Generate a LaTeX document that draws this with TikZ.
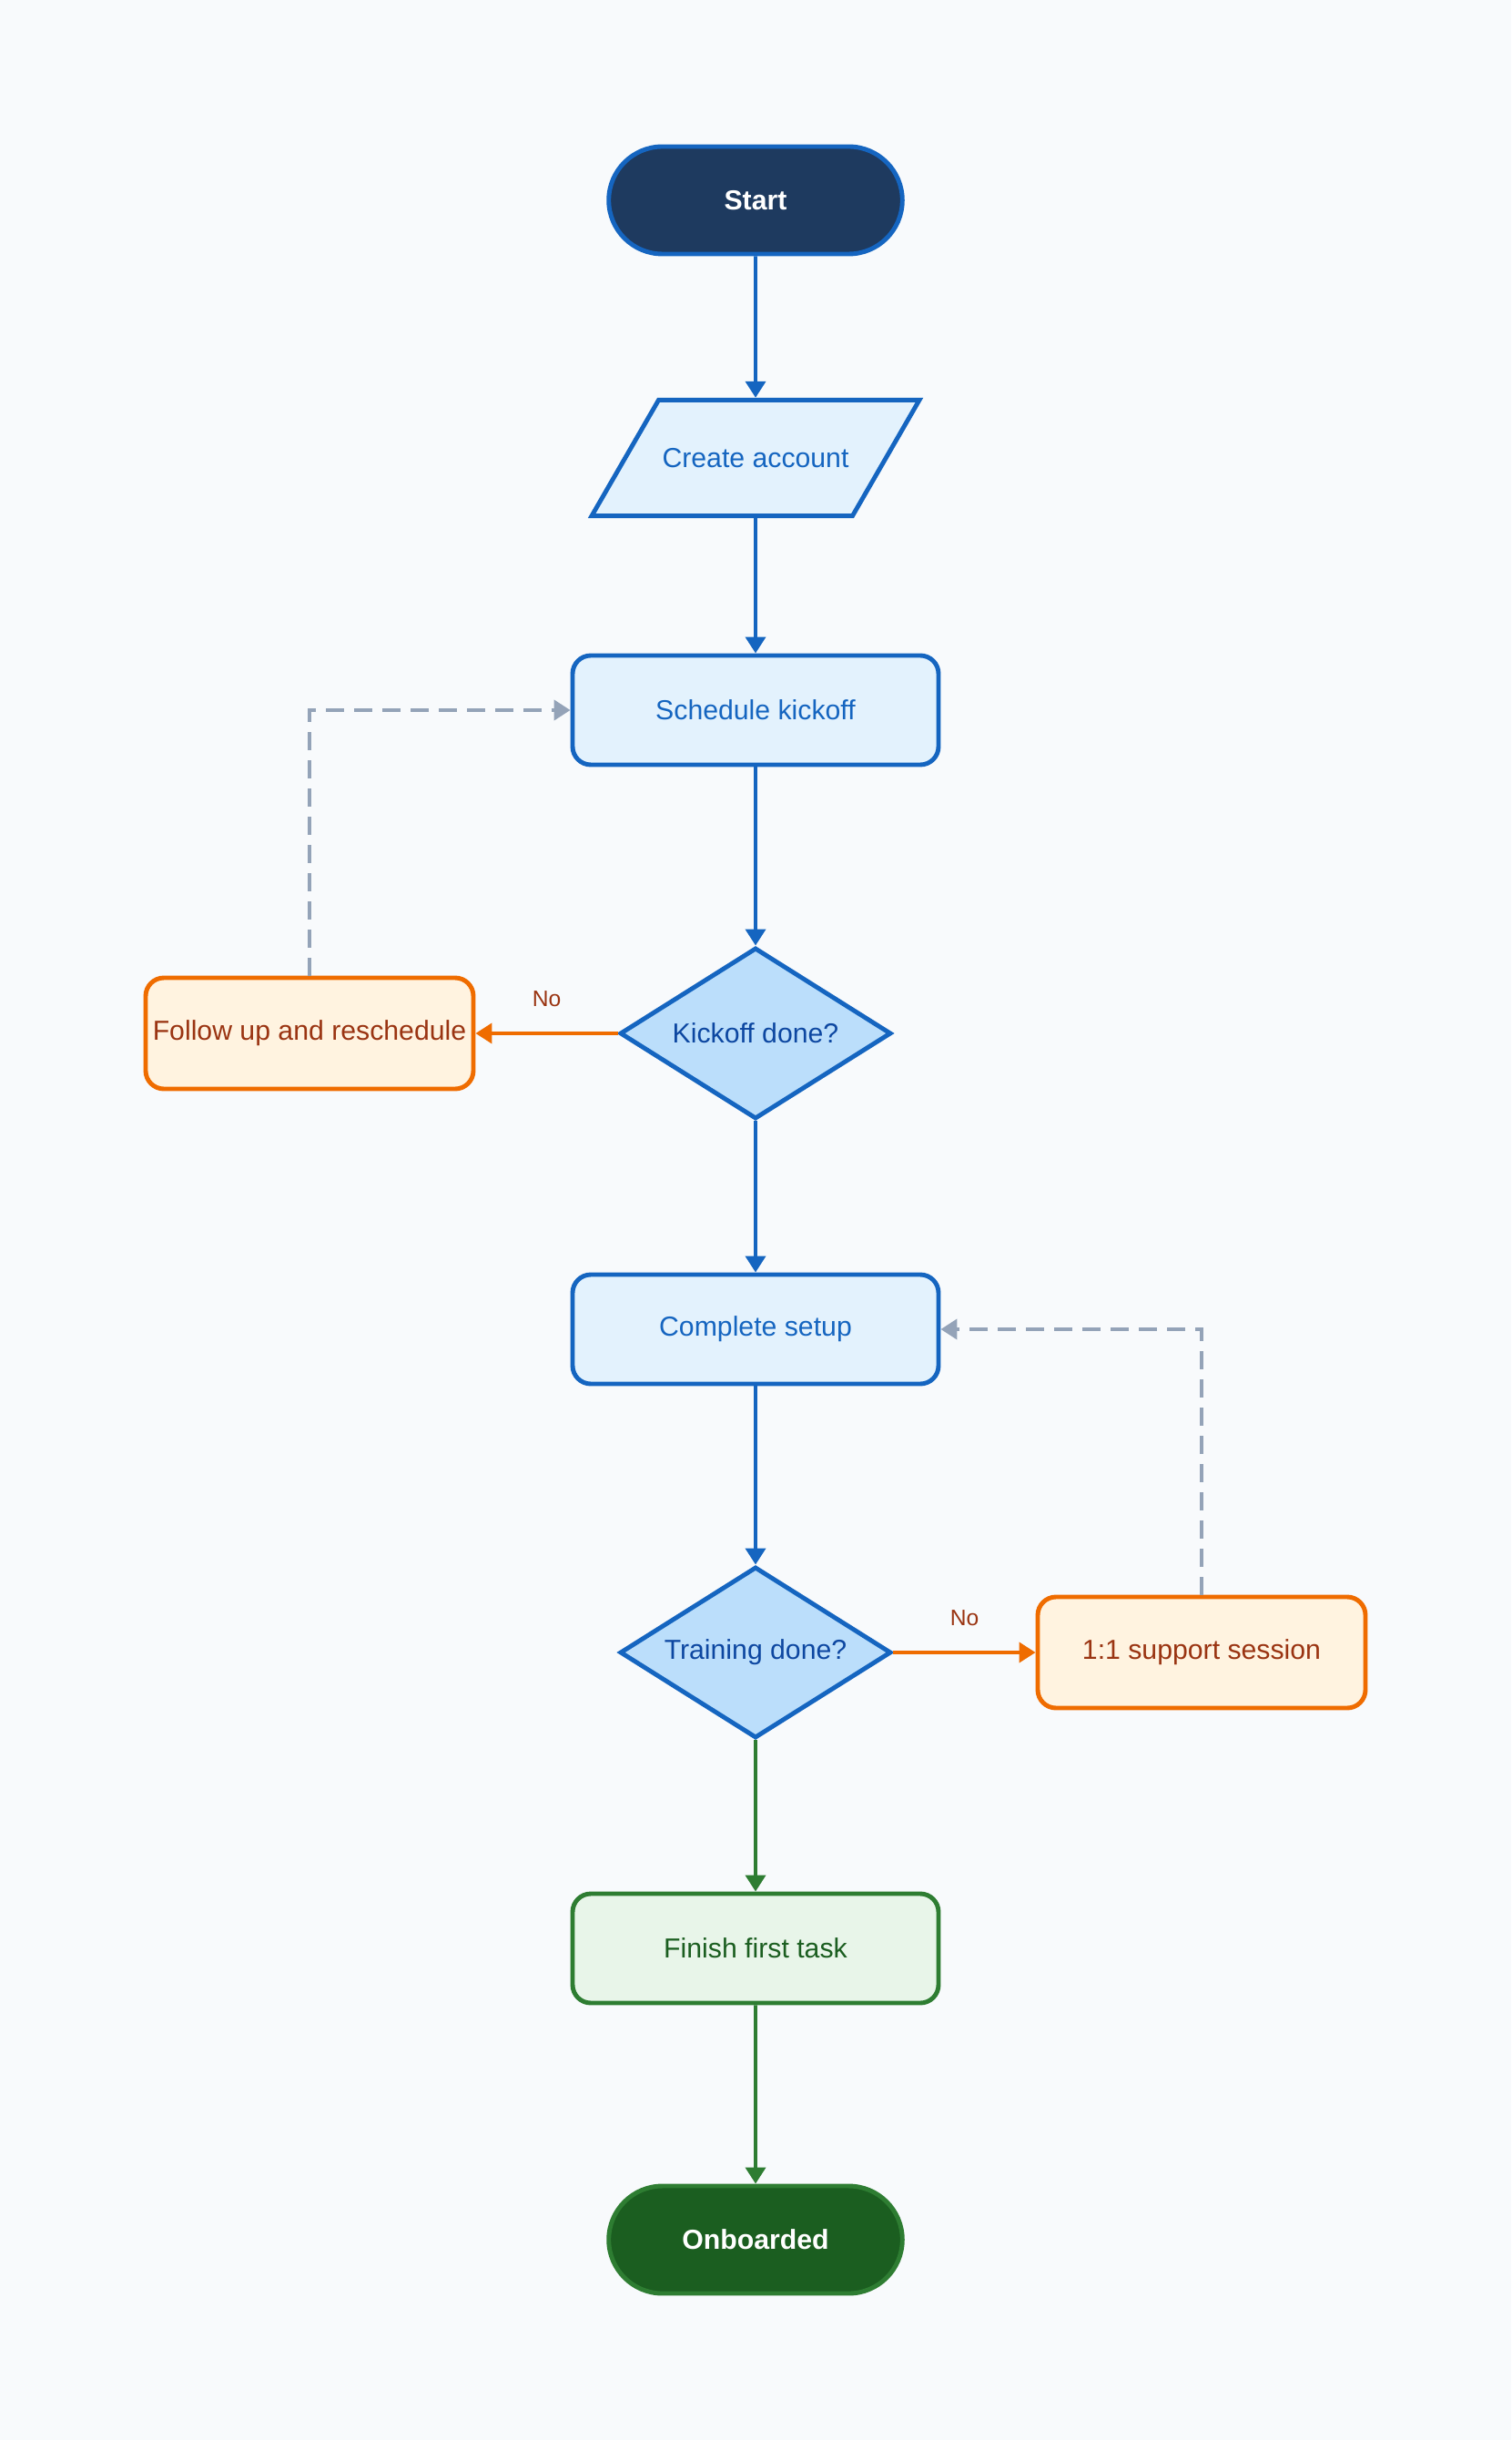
\documentclass[tikz,border=0pt]{standalone}
\usepackage{fontspec}
\setmainfont{Liberation Sans}
\usetikzlibrary{shapes.geometric,shapes.misc,arrows.meta}

\definecolor{bgpage}{HTML}{F8FAFC}
\definecolor{navy}{HTML}{1E3A5F}
\definecolor{bluestroke}{HTML}{1565C0}
\definecolor{bluefill}{HTML}{E3F2FD}
\definecolor{bluedia}{HTML}{BBDEFB}
\definecolor{bluetext}{HTML}{0D47A1}
\definecolor{orstroke}{HTML}{EF6C00}
\definecolor{orfill}{HTML}{FFF3E0}
\definecolor{ortext}{HTML}{9A3412}
\definecolor{grstroke}{HTML}{2E7D32}
\definecolor{grfill}{HTML}{E8F5E9}
\definecolor{grdark}{HTML}{1B5E20}
\definecolor{loopgray}{HTML}{94A3B8}

\begin{document}
\begin{tikzpicture}[
    font=\fontsize{8.6}{10}\selectfont,
    tip/.style={-{Triangle[length=1.8mm,width=2.2mm]}},
    flow/.style={tip,line width=1.1pt,draw=#1},
    loopback/.style={tip,line width=1.2pt,draw=loopgray,dash pattern=on 2mm off 1.1mm},
    pill/.style={rounded rectangle,draw=#1,line width=1.4pt,minimum width=3.46cm,minimum height=1.18cm,text=white,font=\fontsize{8.6}{10}\selectfont\bfseries},
    box/.style={rectangle,rounded corners=2mm,line width=1.4pt,minimum width=4.02cm,minimum height=1.2cm,inner sep=0pt},
    bluebox/.style={box,draw=bluestroke,fill=bluefill,text=bluestroke},
    orbox/.style={box,draw=orstroke,fill=orfill,text=ortext,minimum width=3.6cm,minimum height=1.22cm},
    grbox/.style={box,draw=grstroke,fill=grfill,text=grdark},
    decision/.style={diamond,aspect=1.6,draw=bluestroke,fill=bluedia,text=bluetext,line width=1.4pt,minimum width=2.98cm,minimum height=1.88cm,inner sep=0pt},
    nolabel/.style={text=ortext,font=\fontsize{7}{8}\selectfont}
  ]
    \fill[bgpage] (0,0) rectangle (16.6,-26.8);

    \node[pill=bluestroke,fill=navy] (start) at (8.3,-2.2) {Start};
    \node[trapezium,trapezium left angle=60,trapezium right angle=120,trapezium stretches body,
          draw=bluestroke,fill=bluefill,text=bluestroke,line width=1.4pt,
          minimum width=3.6cm,inner xsep=0pt,inner ysep=0.53cm] (account) at (8.3,-5.03) {Create account};
    \node[bluebox] (kickoff) at (8.3,-7.8) {Schedule kickoff};
    \node[decision] (kickdone) at (8.3,-11.35) {Kickoff done?};
    \node[orbox] (followup) at (3.4,-11.35) {Follow up and reschedule};
    \node[bluebox] (setup) at (8.3,-14.6) {Complete setup};
    \node[decision] (traindone) at (8.3,-18.15) {Training done?};
    \node[orbox] (support) at (13.2,-18.15) {1:1 support session};
    \node[grbox] (firsttask) at (8.3,-21.4) {Finish first task};
    \node[pill=grstroke,fill=grdark] (onboarded) at (8.3,-24.6) {Onboarded};

    \draw[flow=bluestroke] (start) -- (account);
    \draw[flow=bluestroke] (account) -- (kickoff);
    \draw[flow=bluestroke] (kickoff) -- (kickdone);
    \draw[flow=bluestroke] (kickdone) -- (setup);
    \draw[flow=bluestroke] (setup) -- (traindone);
    \draw[flow=grstroke] (traindone) -- (firsttask);
    \draw[flow=grstroke] (firsttask) -- (onboarded);

    \draw[flow=orstroke] (kickdone.west) -- node[nolabel,above=1.6mm] (kickno) {No} (followup.east);
    \draw[flow=orstroke] (traindone.east) -- node[nolabel,above=1.6mm] (trainno) {No} (support.west);

    % retry loops
    \draw[loopback] (followup.north) |- (kickoff.west);
    \draw[loopback] (support.north) |- (setup.east);
\end{tikzpicture}
\end{document}
